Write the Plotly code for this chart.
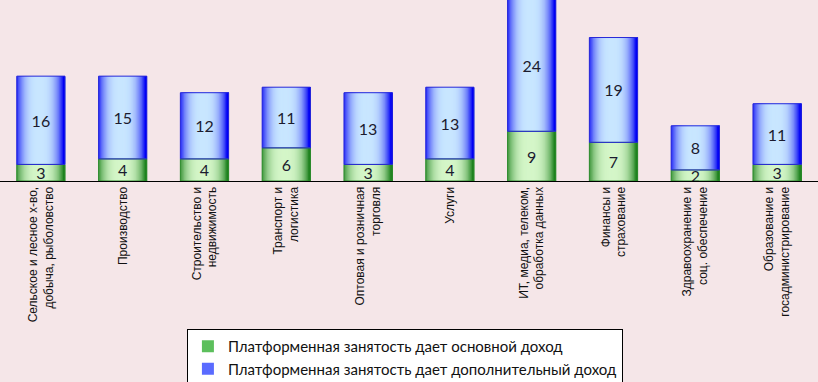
import plotly.graph_objects as go

categories = [
    "Сельское и лесное х-во,<br>добыча, рыболовство",
    "Производство",
    "Строительство и<br>недвижимость",
    "Транспорт и<br>логистика",
    "Оптовая и розничная<br>торговля",
    "Услуги",
    "ИТ, медиа, телеком,<br>обработка данных",
    "Финансы и<br>страхование",
    "Здравоохранение и<br>соц. обеспечение",
    "Образование и<br>госадминистрирование",
]
main_income = [3, 4, 4, 6, 3, 4, 9, 7, 2, 3]
extra_income = [16, 15, 12, 11, 13, 13, 24, 19, 8, 11]

series_names = [
    "Платформенная занятость дает основной доход",
    "Платформенная занятость дает дополнительный доход",
]

BAR_W = 0.59
N_STRIPES = 40

dark = {"g": (30, 130, 30), "b": (0, 0, 245)}
light = {"g": (212, 246, 200), "b": (200, 230, 255)}
edge = {"g": "#2E8B2E", "b": "#2828D8"}
legend_col = {"g": "#5CBF5C", "b": "#5A6BFF"}


def shade(key, t):
    d = abs(t - 0.47) / 0.5
    f = max(0.0, 1.0 - d ** 3)
    a, b = dark[key], light[key]
    c = [round(a[i] + (b[i] - a[i]) * f) for i in range(3)]
    return "rgb(%d,%d,%d)" % tuple(c)


fig = go.Figure()
x = list(range(len(categories)))

series = [
    ("g", main_income, [0] * len(main_income), series_names[0]),
    ("b", extra_income, main_income, series_names[1]),
]

# base solid bars (legend entries)
for key, vals, base, name in series:
    fig.add_trace(go.Bar(
        x=x, y=vals, base=base, name=name, width=BAR_W,
        marker=dict(color=legend_col[key], line=dict(width=0)),
        showlegend=True, hoverinfo="skip",
    ))

# gradient stripes: each stripe runs from its start to the right edge,
# later stripes cover earlier ones -> no gaps
sw = BAR_W / N_STRIPES
for key, vals, base, name in series:
    for i in range(N_STRIPES):
        t = (i + 0.5) / N_STRIPES
        fig.add_trace(go.Bar(
            x=x, y=vals, base=base, width=BAR_W - i * sw,
            offset=-BAR_W / 2 + i * sw,
            marker=dict(color=shade(key, t), line=dict(width=0)),
            showlegend=False, hoverinfo="skip",
        ))

# outline + value labels
for key, vals, base, name in series:
    fig.add_trace(go.Bar(
        x=x, y=vals, base=base, width=BAR_W,
        marker=dict(color="rgba(0,0,0,0)", line=dict(color=edge[key], width=1)),
        text=[str(v) for v in vals], textposition="inside", textangle=0,
        insidetextanchor="middle",
        textfont=dict(family="Lato, Noto Sans, sans-serif", size=16, color="#1B1B2F"),
        showlegend=False, hoverinfo="skip",
    ))

fig.update_layout(
    width=818, height=382,
    margin=dict(l=0, r=0, t=0, b=201, autoexpand=False),
    barmode="overlay",
    paper_bgcolor="#F5E6E8",
    plot_bgcolor="#F5E6E8",
    uniformtext=dict(minsize=16, mode="show"),
    showlegend=True,
    legend=dict(
        x=0.495, xanchor="center", yref="container", y=(382 - 329) / 382, yanchor="top",
        bgcolor="white", bordercolor="black", borderwidth=1,
        font=dict(family="Lato, Noto Sans, sans-serif", size=15, color="#111111"),
        traceorder="normal", itemsizing="constant",
        tracegroupgap=0, itemwidth=30,
    ),
    xaxis=dict(
        tickmode="array", tickvals=x, ticktext=categories,
        tickangle=-90, range=[-0.5, len(categories) - 0.5],
        showline=True, linecolor="black", linewidth=1,
        showgrid=False, zeroline=False, ticks="", automargin=False,
        tickfont=dict(family="Liberation Sans, Arial, sans-serif", size=12, color="#111111"),
    ),
    yaxis=dict(range=[0, 32.8], visible=False, showgrid=False, zeroline=False),
)

fig.write_html(
    "out.html",
    config={"displayModeBar": False},
    post_script="document.body.style.margin='0';document.body.style.padding='0';",
)
